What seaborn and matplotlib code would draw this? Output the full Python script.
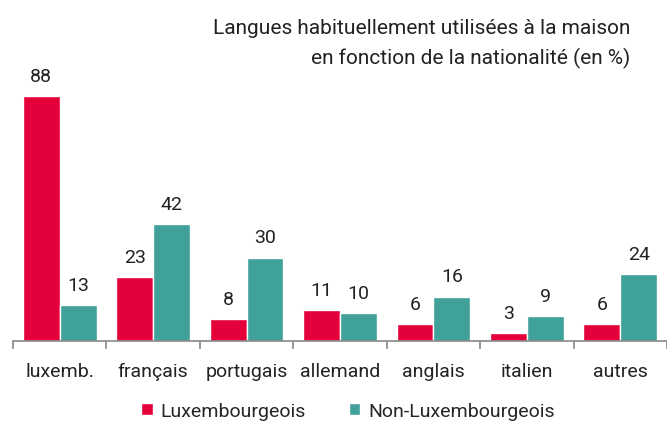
import pandas as pd
import seaborn as sns
import matplotlib.pyplot as plt
from matplotlib.patches import Patch

# Data
langues = ['luxemb.', 'français', 'portugais', 'allemand', 'anglais', 'italien', 'autres']
luxembourgeois = [88, 23, 8, 11, 6, 3, 6]
non_luxembourgeois = [13, 42, 30, 10, 16, 9, 24]
series = ['Luxembourgeois', 'Non-Luxembourgeois']
colors = ['#E4003A', '#40A09A']

df = pd.DataFrame({
    'langue': langues * 2,
    'groupe': [series[0]] * len(langues) + [series[1]] * len(langues),
    'pct': luxembourgeois + non_luxembourgeois,
})

sns.set_style('white')
plt.rcParams['font.family'] = ['Roboto', 'DejaVu Sans']

fig = plt.figure(figsize=(6.67, 4.35), dpi=100)
ax = fig.add_axes([13 / 667, 93 / 435, 654 / 667, 278 / 435])

sns.barplot(data=df, x='langue', y='pct', hue='groupe', palette=colors,
            width=0.79, gap=0, saturation=1, ax=ax, legend=False)

for cont in ax.containers:
    ax.bar_label(cont, padding=8, fontsize=14, color='#222222')

ax.set_ylim(0, 100)
ax.set_xlim(-0.5, len(langues) - 0.5)
ax.set_xlabel('')
ax.set_ylabel('')
ax.set_yticks([])
for s in ['top', 'right', 'left']:
    ax.spines[s].set_visible(False)
ax.spines['bottom'].set_color('#888888')
ax.spines['bottom'].set_linewidth(1.2)

# tick marks between the groups, labels at group centres
ax.set_xticks([i + 0.5 for i in range(-1, len(langues))], minor=False)
ax.set_xticklabels([])
ax.tick_params(axis='x', which='major', length=6, color='#888888', width=1.2, direction='out', bottom=True)
ax.set_xticks(range(len(langues)), minor=True)
ax.set_xticklabels(langues, minor=True, fontsize=14, color='#222222', va='baseline')
ax.tick_params(axis='x', which='minor', length=0, pad=25)

fig.text(630 / 667, 1 - 44 / 435, 'Langues habituellement utilisées à la maison\nen fonction de la nationalité (en %)',
         ha='right', va='center', fontsize=15, color='#222222', linespacing=1.6)

handles = [Patch(facecolor=c, label=s) for c, s in zip(colors, series)]
fig.legend(handles=handles, loc='center', bbox_to_anchor=(348 / 667, 1 - 412 / 435), ncol=2,
           frameon=False, fontsize=14, handlelength=0.6, handleheight=0.6,
           handletextpad=0.4, columnspacing=2.2)

fig.savefig('out.png', dpi=100)
